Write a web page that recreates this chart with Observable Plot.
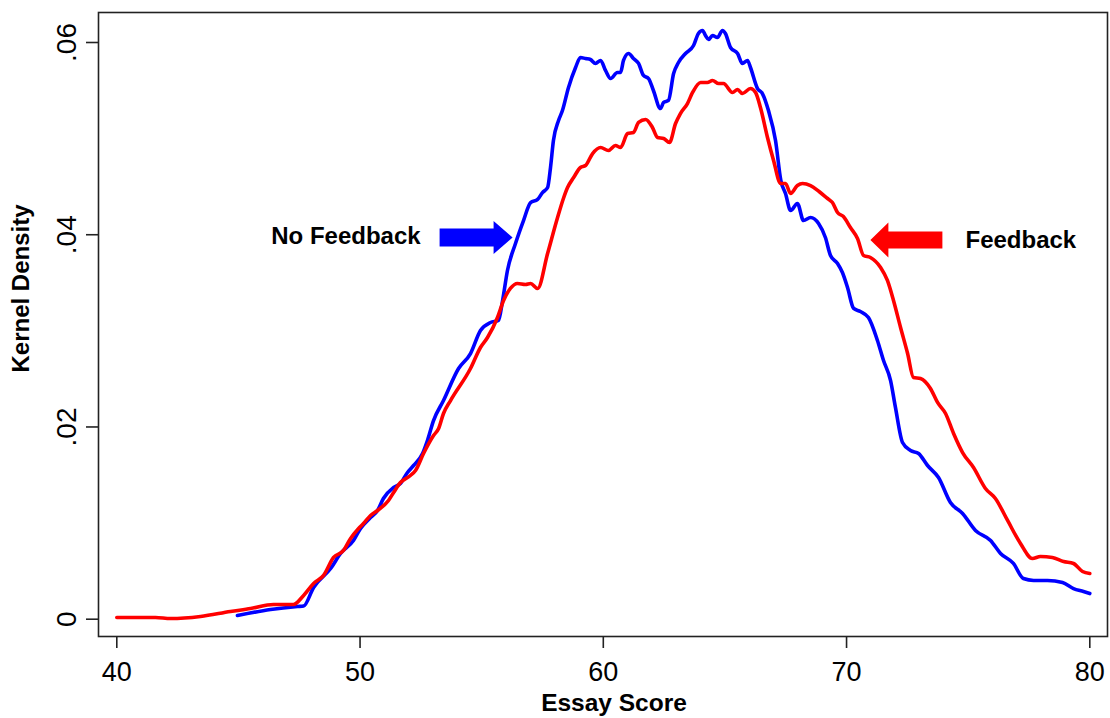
<!DOCTYPE html>
<html>
<head>
<meta charset="utf-8">
<script src="https://cdn.jsdelivr.net/npm/d3@7"></script>
<script src="https://cdn.jsdelivr.net/npm/@observablehq/plot@0.6"></script>
<style>
  html, body { margin: 0; padding: 0; background: #fff; }
  #chart svg { display: block; }
</style>
</head>
<body>
<div id="chart"></div>
<script>
// Essay score grid and kernel density values
const noFbX = [44.96,46.32,47.43,47.68,48.09,48.79,49.20,49.73,50.02,50.43,50.72,50.96,51.38,51.66,51.95,52.20,52.57,52.77,53.02,53.43,54.05,54.54,54.95,55.36,55.69,55.86,56.06,56.39,56.72,57.01,57.30,57.50,57.71,57.83,57.95,58.16,58.32,58.57,58.86,59.06,59.27,59.47,59.68,59.89,60.09,60.30,60.58,60.71,60.83,61.04,61.24,61.45,61.65,61.86,62.06,62.35,62.48,62.68,62.89,63.09,63.38,63.71,63.91,64.08,64.20,64.33,64.49,64.69,64.90,65.02,65.23,65.52,65.72,65.93,66.05,66.34,66.54,66.79,67.08,67.30,67.49,67.70,67.98,68.23,68.52,68.85,69.13,69.34,69.63,69.83,70.04,70.29,70.57,70.90,71.27,71.52,71.81,72.01,72.30,72.63,72.96,73.33,73.78,74.27,74.77,75.30,75.92,76.33,76.86,77.27,77.69,78.26,78.88,79.33,79.74,80.00];
const noFbY = [0.00038,0.00101,0.00132,0.00137,0.0033,0.00527,0.00684,0.00819,0.00944,0.01058,0.01131,0.01256,0.0137,0.01412,0.01526,0.01599,0.01724,0.01859,0.02067,0.02275,0.02608,0.02764,0.03004,0.03087,0.03108,0.03316,0.03628,0.03909,0.04148,0.04335,0.04367,0.04439,0.04491,0.047,0.0498,0.05188,0.05292,0.05532,0.0574,0.05844,0.05833,0.05823,0.05782,0.05813,0.05709,0.05625,0.05688,0.05688,0.05813,0.05886,0.05833,0.05782,0.05657,0.05625,0.05501,0.05313,0.05376,0.05397,0.05677,0.05792,0.05886,0.05969,0.06094,0.06125,0.06073,0.06031,0.06073,0.06052,0.06125,0.06094,0.05948,0.05886,0.05782,0.05813,0.0574,0.05521,0.05469,0.05292,0.0498,0.04564,0.04429,0.04252,0.04325,0.04148,0.04179,0.04117,0.03971,0.03784,0.03701,0.03607,0.03451,0.03233,0.03201,0.03139,0.029,0.02691,0.02483,0.02203,0.01838,0.01755,0.01724,0.01599,0.01474,0.01214,0.011,0.00923,0.00819,0.00684,0.0058,0.00423,0.00403,0.00403,0.00382,0.00319,0.00288,0.00267];

const fbX = [40.00,41.59,42.21,43.44,44.67,45.50,46.44,47.26,47.68,48.09,48.50,48.91,49.32,49.61,49.94,50.14,50.43,50.72,51.17,51.38,51.66,52.07,52.28,52.61,53.02,53.23,53.43,53.72,54.54,54.95,55.24,55.65,55.90,56.18,56.47,56.80,57.01,57.30,57.71,58.12,58.36,58.53,58.78,59.06,59.27,59.56,59.89,60.21,60.50,60.71,61.00,61.24,61.45,61.74,62.02,62.23,62.48,62.72,62.97,63.17,63.46,63.67,64.00,64.28,64.49,64.74,64.94,65.31,65.52,65.72,66.05,66.26,66.46,66.75,67.00,67.29,67.49,67.70,67.98,68.19,68.52,68.87,69.22,69.42,69.63,69.87,70.16,70.45,70.70,70.98,71.40,71.68,71.93,72.22,72.51,72.75,73.04,73.45,73.74,74.07,74.40,74.77,75.22,75.71,76.12,76.62,77.15,77.64,77.97,78.46,78.92,79.33,79.70,80.00];
const fbY = [0.00018,0.00018,0.00007,0.00028,0.0008,0.00111,0.00153,0.00153,0.00247,0.00371,0.00455,0.00642,0.00715,0.0084,0.00944,0.00996,0.01079,0.01131,0.01235,0.01318,0.01422,0.01495,0.01547,0.01724,0.01911,0.01984,0.0214,0.02275,0.02608,0.02827,0.02931,0.03139,0.03316,0.03441,0.03493,0.03482,0.03493,0.03441,0.03805,0.04179,0.04377,0.04491,0.04595,0.047,0.0472,0.04845,0.04908,0.04876,0.04928,0.04908,0.05053,0.05064,0.05168,0.05199,0.05116,0.05012,0.05001,0.0496,0.05157,0.05261,0.05365,0.0548,0.05584,0.05584,0.05605,0.05573,0.05573,0.0548,0.05511,0.05469,0.05521,0.0548,0.05324,0.05012,0.04772,0.04533,0.04533,0.04429,0.04512,0.04533,0.04512,0.0445,0.04377,0.04335,0.04231,0.0419,0.04075,0.03961,0.03784,0.03763,0.03659,0.03524,0.03316,0.03035,0.02764,0.02515,0.02504,0.024,0.02255,0.0214,0.01932,0.01734,0.01578,0.0136,0.01256,0.01027,0.00788,0.00632,0.00652,0.00642,0.006,0.0058,0.00496,0.00475];

const xTicks = [40, 50, 60, 70, 80];
const yTicks = [0, 0.02, 0.04, 0.06];
const yTickLabels = ["0", ".02", ".04", ".06"];

// annotations (labels and arrows)
const annoLabels = ["No Feedback", "Feedback"];
const annoX = [52.49, 74.89];
const annoY = [0.0398, 0.0394];
const arrowX = [53.27, 73.94];
const arrowY = [0.03971, 0.03945];
const arrowDir = [90, -90];
const seriesColors = ["#0000ff", "#ff0000"];

const noFb = noFbX.map((x, i) => ({x, y: noFbY[i]}));
const fb = fbX.map((x, i) => ({x, y: fbY[i]}));

const FONT = "'Liberation Sans', Arial, Helvetica, sans-serif";

function blockArrow(bodyHalf, headHalf, headLen) {
  return {
    draw(ctx, l) {
      ctx.moveTo(-bodyHalf, 0);
      ctx.lineTo(-bodyHalf, -(l - headLen));
      ctx.lineTo(-headHalf, -(l - headLen));
      ctx.lineTo(0, -l);
      ctx.lineTo(headHalf, -(l - headLen));
      ctx.lineTo(bodyHalf, -(l - headLen));
      ctx.lineTo(bodyHalf, 0);
      ctx.closePath();
    }
  };
}

const chart = Plot.plot({
  width: 1110,
  height: 718,
  marginTop: 12,
  marginBottom: 82,
  marginLeft: 98,
  marginRight: 3,
  style: {fontFamily: FONT, color: "#000", background: "#fff"},
  x: {domain: [40, 80], range: [116.3, 1089.3]},
  y: {domain: [0, 0.06], range: [618.7, 42]},
  marks: [
    Plot.frame({stroke: "#222", strokeWidth: 1.6}),
    Plot.axisX({ticks: xTicks, tickSize: 12, tickPadding: 13, fontSize: 27, label: null, tickFormat: d => String(d), stroke: "#222", strokeWidth: 1.6}),
    Plot.axisY({ticks: yTicks, tickSize: 12, label: null, tickFormat: () => "", stroke: "#222", strokeWidth: 1.6}),
    Plot.text(yTicks, {y: d => d, text: (d, i) => yTickLabels[i], frameAnchor: "left", dx: -22.5, rotate: -90, textAnchor: "middle", lineAnchor: "bottom", fontSize: 28, fill: "#000"}),
    Plot.text(["Kernel Density"], {frameAnchor: "left", dx: -77, dy: -36, rotate: -90, textAnchor: "middle", lineAnchor: "middle", fontSize: 24, fontWeight: "bold", fill: "#000"}),
    Plot.text(["Essay Score"], {frameAnchor: "bottom", dx: 11, dy: 67, textAnchor: "middle", lineAnchor: "middle", fontSize: 24.5, fontWeight: "bold", fill: "#000"}),
    Plot.line(noFb, {x: "x", y: "y", stroke: seriesColors[0], strokeWidth: 3.6, strokeLinejoin: "round", curve: "monotone-x"}),
    Plot.line(fb, {x: "x", y: "y", stroke: seriesColors[1], strokeWidth: 3.6, strokeLinejoin: "round", curve: "monotone-x"}),
    Plot.text([annoLabels[0]], {x: () => annoX[0], y: () => annoY[0], text: d => d, textAnchor: "end", lineAnchor: "middle", fontSize: 24, fontWeight: "bold", fill: "#000"}),
    Plot.text([annoLabels[1]], {x: () => annoX[1], y: () => annoY[1], text: d => d, textAnchor: "start", lineAnchor: "middle", fontSize: 24, fontWeight: "bold", fill: "#000"}),
    Plot.vector([0], {x: () => arrowX[0], y: () => arrowY[0], length: 73, rotate: arrowDir[0], anchor: "start", shape: blockArrow(9, 16.5, 19), fill: seriesColors[0], stroke: "none"}),
    Plot.vector([1], {x: () => arrowX[1], y: () => arrowY[1], length: 72, rotate: arrowDir[1], anchor: "start", shape: blockArrow(8.5, 17.5, 18), fill: seriesColors[1], stroke: "none"})
  ]
});
document.getElementById("chart").appendChild(chart);
</script>
</body>
</html>
